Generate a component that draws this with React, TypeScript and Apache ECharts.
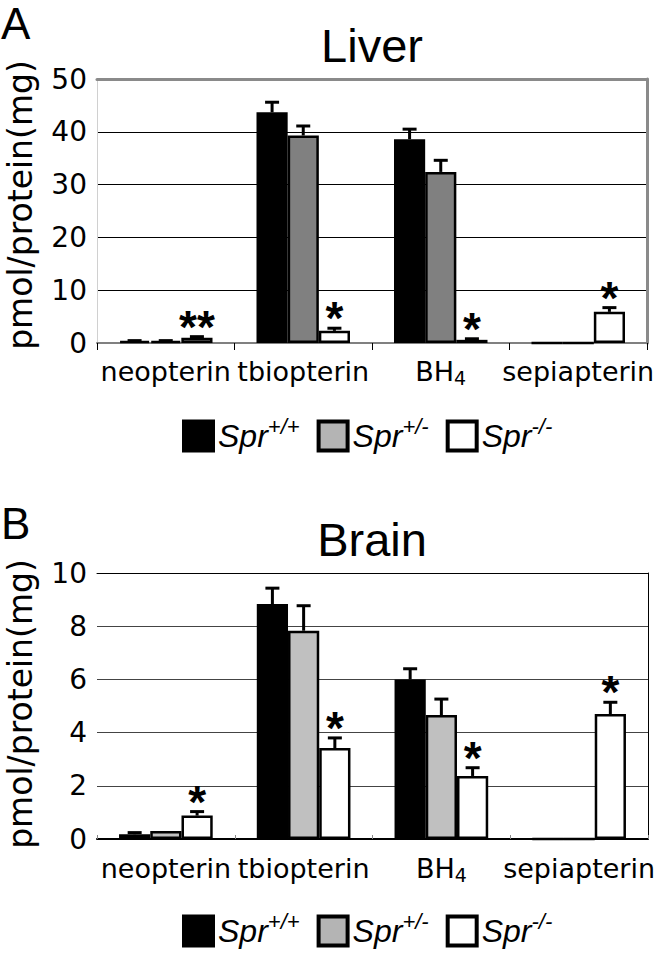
import React, { useEffect, useRef } from "react";
import * as echarts from "echarts";

const categories = ["neopterin", "tbiopterin", "BH4", "sepiapterin"];
const genotypes = ["Spr+/+", "Spr+/-", "Spr-/-"];

// Liver (panel A)
const liverWT = [0.4, 43.7, 38.6, 0];
const liverHet = [0.4, 39.3, 32.4, 0];
const liverKO = [1.0, 2.3, 0.6, 5.9];
const liverWTErr = [0.05, 1.9, 1.9, 0];
const liverHetErr = [0.05, 1.8, 2.2, 0];
const liverKOErr = [0.2, 0.5, 0.2, 0.8];
const liverKOStars = ["**", "*", "*", "*"];
const liverTicks = [0, 10, 20, 30, 40, 50];

// Brain (panel B)
const brainWT = [0.18, 8.83, 6.0, 0];
const brainHet = [0.3, 7.83, 4.66, 0];
const brainKO = [0.88, 3.42, 2.37, 4.7];
const brainWTErr = [0.06, 0.6, 0.4, 0];
const brainHetErr = [0, 0.94, 0.6, 0];
const brainKOErr = [0.15, 0.38, 0.31, 0.44];
const brainKOStars = ["*", "*", "*", "*"];
const brainTicks = [0, 2, 4, 6, 8, 10];

const noStars = ["", "", "", ""];
const liverColors = ["#000000", "#808080", "#ffffff"];
const brainColors = ["#000000", "#c0c0c0", "#ffffff"];
const legendColors = ["#000000", "#b4b4b4", "#ffffff"];

const GAP = 0.32;
const TICK_FONT = '"DejaVu Sans"';
const TITLE_FONT = '"Liberation Sans", Arial, sans-serif';

function buildPanel(
  panel: number,
  vals: number[][],
  errs: number[][],
  stars: string[][],
  colors: string[]
) {
  const xi = panel * 2;
  const yi = panel * 2;
  const out: any[] = [];
  vals.forEach((v, g) => {
    out.push({
      type: "bar",
      name: genotypes[g],
      xAxisIndex: xi,
      yAxisIndex: yi,
      data: v,
      barCategoryGap: "32%",
      barGap: "0%",
      itemStyle: { color: colors[g], borderColor: "#000", borderWidth: 2.5 },
      z: 2,
    });
  });
  vals.forEach((v, g) => {
    out.push({
      type: "custom",
      name: "err" + panel + "-" + g,
      xAxisIndex: xi,
      yAxisIndex: yi,
      z: 5,
      clip: false,
      data: v.map((val, i) => [i, val, errs[g][i]]),
      encode: { x: 0, y: 1 },
      renderItem: (params: any, api: any) => {
        const i = api.value(0);
        const val = api.value(1);
        const e = api.value(2);
        const base = api.coord([i, val]);
        const top = api.coord([i, val + e]);
        const band = api.size([1, 0])[0];
        const bw = (band * (1 - GAP)) / 3;
        const x = base[0] + (g - 1) * bw;
        const children: any[] = [];
        if (e > 0) {
          children.push({
            type: "line",
            shape: { x1: x, y1: base[1], x2: x, y2: top[1] },
            style: { stroke: "#000", lineWidth: 3 },
          });
          children.push({
            type: "line",
            shape: { x1: x - 7, y1: top[1], x2: x + 7, y2: top[1] },
            style: { stroke: "#000", lineWidth: 3 },
          });
        }
        const s = stars[g][params.dataIndex];
        if (s) {
          children.push({
            type: "text",
            x: x,
            y: top[1] - 10,
            style: {
              text: s,
              fill: "#000",
              font: 'bold 46px "Liberation Sans", Arial, sans-serif',
              align: "center",
              verticalAlign: "middle",
              textAlign: "center",
              textVerticalAlign: "middle",
            },
          });
        }
        return { type: "group", children };
      },
    });
  });
  return out;
}

const xLabel = () => ({
  interval: 0,
  margin: 12,
  color: "#000",
  fontFamily: TICK_FONT,
  fontSize: 27,
  formatter: (v: string) =>
    v === "BH4" ? "{n|BH}{sub|4}" : "{n|" + v + "}",
  rich: {
    n: { fontFamily: TICK_FONT, fontSize: 27, lineHeight: 32, color: "#000" },
    sub: {
      fontFamily: TICK_FONT,
      fontSize: 19,
      lineHeight: 18,
      padding: [14, 0, 0, 0],
      color: "#000",
    },
  },
});

const yLabel = {
  color: "#000",
  fontFamily: TICK_FONT,
  fontSize: 28,
  margin: 10,
};

export default function App() {
  const ref = useRef<HTMLDivElement>(null);
  useEffect(() => {
    if (!ref.current) return;
    const chart = echarts.init(ref.current, null, { renderer: "svg" });
    const option: any = {
      animation: false,
      backgroundColor: "#ffffff",
      grid: [
        { left: 97, top: 79, width: 550, height: 264 },
        { left: 97, top: 573, width: 551, height: 266 },
      ],
      xAxis: [
        {
          gridIndex: 0,
          type: "category",
          data: categories,
          axisLine: { onZero: false, lineStyle: { color: "#808080", width: 2 } },
          axisTick: { show: true, length: 7, lineStyle: { color: "#000", width: 1 } },
          axisLabel: xLabel(),
        },
        {
          gridIndex: 0,
          type: "category",
          position: "top",
          data: categories,
          axisLine: { onZero: false, lineStyle: { color: "#8a8a8a", width: 3 } },
          axisTick: { show: false },
          axisLabel: { show: false },
        },
        {
          gridIndex: 1,
          type: "category",
          data: categories,
          axisLine: { onZero: false, lineStyle: { color: "#000", width: 2 } },
          axisTick: { show: true, inside: true, length: 4, lineStyle: { color: "#888", width: 1 } },
          axisLabel: { ...xLabel(), margin: 13 },
        },
        {
          gridIndex: 1,
          type: "category",
          position: "top",
          data: categories,
          axisLine: { onZero: false, lineStyle: { color: "#000", width: 1 } },
          axisTick: { show: false },
          axisLabel: { show: false },
        },
      ],
      yAxis: [
        {
          gridIndex: 0,
          type: "value",
          min: liverTicks[0],
          max: liverTicks[liverTicks.length - 1],
          interval: liverTicks[1] - liverTicks[0],
          axisLine: { show: true, onZero: false, lineStyle: { color: "#d0d0d0", width: 1 } },
          axisTick: { show: false },
          splitLine: { lineStyle: { color: "#000", width: 1 } },
          axisLabel: yLabel,
        },
        {
          gridIndex: 0,
          type: "value",
          position: "right",
          min: liverTicks[0],
          max: liverTicks[liverTicks.length - 1],
          interval: liverTicks[1] - liverTicks[0],
          axisLine: { show: true, onZero: false, lineStyle: { color: "#8a8a8a", width: 3 } },
          axisTick: { show: false },
          splitLine: { show: false },
          axisLabel: { show: false },
        },
        {
          gridIndex: 1,
          type: "value",
          min: brainTicks[0],
          max: brainTicks[brainTicks.length - 1],
          interval: brainTicks[1] - brainTicks[0],
          axisLine: { show: false },
          axisTick: { show: false },
          splitLine: { lineStyle: { color: "#444", width: 1 } },
          axisLabel: yLabel,
        },
        {
          gridIndex: 1,
          type: "value",
          position: "right",
          min: brainTicks[0],
          max: brainTicks[brainTicks.length - 1],
          interval: brainTicks[1] - brainTicks[0],
          axisLine: { show: true, onZero: false, lineStyle: { color: "#000", width: 1 } },
          axisTick: { show: false },
          splitLine: { show: false },
          axisLabel: { show: false },
        },
      ],
      legend: [0, 1].map((p) => ({
        data: genotypes.map((n, g) => ({
          name: n,
          itemStyle: { color: legendColors[g], borderColor: "#000", borderWidth: 4 },
        })),
        left: 177,
        top: p === 0 ? 410 : 905,
        orient: "horizontal",
        icon: "rect",
        itemWidth: 29,
        itemHeight: 29,
        itemGap: 17,
        selectedMode: false,
        itemStyle: { borderColor: "#000", borderWidth: 4 },
        formatter: (name: string) => "{a|Spr}{s|" + name.slice(3) + "}",
        textStyle: {
          color: "#000",
          rich: {
            a: {
              fontFamily: TITLE_FONT,
              fontStyle: "italic",
              fontSize: 32,
              lineHeight: 36,
              color: "#000",
            },
            s: {
              fontFamily: TITLE_FONT,
              fontStyle: "italic",
              fontSize: 22,
              lineHeight: 16,
              padding: [0, 0, 20, 0],
              color: "#000",
            },
          },
        },
      })),
      graphic: [
        { label: "A", x: 1, y: 23 },
        { label: "B", x: 1, y: 523 },
      ]
        .map((t) => ({
          type: "text",
          x: t.x,
          y: t.y,
          style: {
            text: t.label,
            fill: "#000",
            font: "44px " + TITLE_FONT,
            align: "left",
            verticalAlign: "middle",
            textAlign: "left",
            textVerticalAlign: "middle",
          },
        }))
        .concat(
          [
            { label: "Liver", y: 45 },
            { label: "Brain", y: 539 },
          ].map((t) => ({
            type: "text",
            x: 372,
            y: t.y,
            style: {
              text: t.label,
              fill: "#000",
              font: "47px " + TITLE_FONT,
              align: "center",
              verticalAlign: "middle",
              textAlign: "center",
              textVerticalAlign: "middle",
            },
          }))
        )
        .concat(
          [205, 704].map((cy) => ({
            type: "text",
            x: 20,
            y: cy,
            rotation: Math.PI / 2,
            style: {
              text: "pmol/protein(mg)",
              fill: "#000",
              font: "33px " + TICK_FONT,
              align: "center",
              verticalAlign: "middle",
              textAlign: "center",
              textVerticalAlign: "middle",
            },
          })) as any
        ),
      series: [
        ...buildPanel(
          0,
          [liverWT, liverHet, liverKO],
          [liverWTErr, liverHetErr, liverKOErr],
          [noStars, noStars, liverKOStars],
          liverColors
        ),
        ...buildPanel(
          1,
          [brainWT, brainHet, brainKO],
          [brainWTErr, brainHetErr, brainKOErr],
          [noStars, noStars, brainKOStars],
          brainColors
        ),
      ],
    };
    chart.setOption(option);
    return () => chart.dispose();
  }, []);
  return (
    <div
      ref={ref}
      style={{ position: "absolute", left: 0, top: 0, width: 668, height: 954, background: "#fff" }}
    />
  );
}
